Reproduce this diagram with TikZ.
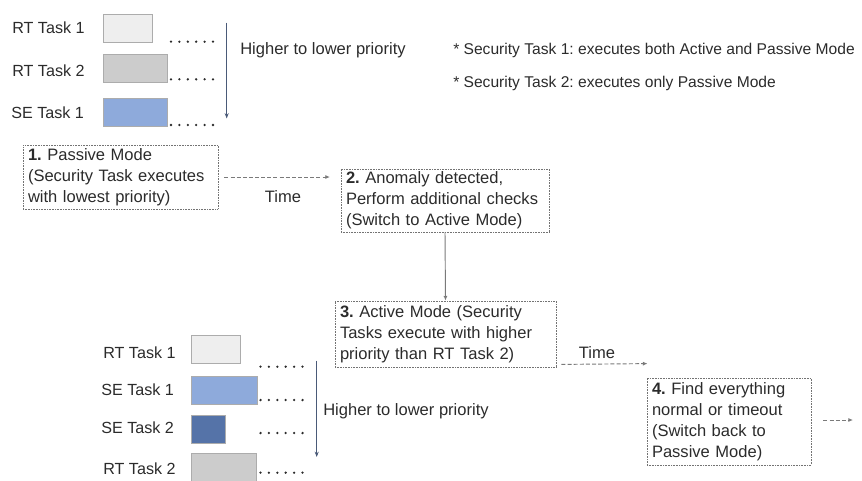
\documentclass[tikz,border=0pt]{standalone}
\usepackage{fontspec}
\setmainfont{Liberation Sans}
\usepackage{xcolor}
\usetikzlibrary{arrows.meta}
\frenchspacing

\definecolor{rtlight}{HTML}{EEEEEE}
\definecolor{rtgray}{HTML}{CCCCCC}
\definecolor{selight}{HTML}{8EAADB}
\definecolor{sedark}{HTML}{5573A8}
\definecolor{prioblue}{HTML}{4A5A78}
\definecolor{txtgray}{HTML}{2B2B2B}
\definecolor{linegray}{HTML}{7A7A7A}

\tikzset{
  tasklabel/.style={anchor=west, inner sep=0pt, text=txtgray, font=\fontsize{12.1}{14}\selectfont},
  taskbar/.style={draw=gray!65, line width=0.6pt, anchor=west, minimum height=21pt, inner sep=0pt},
  taskdots/.style={line width=1.9pt, line cap=round, dash pattern=on 0pt off 6.3pt, txtgray},
  prioarrow/.style={-{Stealth[length=4pt,width=3pt]}, line width=0.7pt, prioblue},
  stepbox/.style={draw=gray!90!black, line width=0.6pt, dash pattern=on 0.6pt off 0.6pt,
    align=left, inner xsep=3.75pt, inner ysep=2pt, text=txtgray,
    font=\fontsize{12.4}{15.75}\selectfont},
  timearrow/.style={-{Latex[length=3.5pt,width=3pt]}, line width=0.7pt, linegray, dash pattern=on 3pt off 1.6pt},
  plainlabel/.style={inner sep=0pt, text=txtgray, font=\fontsize{12.4}{14}\selectfont}
}

\begin{document}
\begin{tikzpicture}[x=0.75pt,y=-0.75pt]
    \useasboundingbox (0,0) rectangle (862,480);

    % passive mode priorities
    \node[tasklabel] (lrt1) at (12,28) {RT Task 1};
    \node[tasklabel] (lrt2) at (12,71) {RT Task 2};
    \node[tasklabel] (lse1) at (11,113) {SE Task 1};
    \node[taskbar, fill=rtlight, minimum width=36.75pt] (rt1) at (103,28) {};
    \node[taskbar, fill=rtgray, minimum width=48pt] (rt2) at (103,68) {};
    \node[taskbar, fill=selight, minimum width=48pt] (se1) at (103,112) {};
    \draw[taskdots] (171,41.7) -- (213.5,41.7);
    \draw[taskdots] (171,79.3) -- (213.5,79.3);
    \draw[taskdots] (171,125) -- (213.5,125);
    \coordinate (pa) at (226.7,22.7);
    \coordinate (pb) at (226.7,118.5);
    \draw[prioarrow] (pa) -- (pb);
    \node[plainlabel, anchor=west] (prio) at (240,50) {Higher to lower priority};

    \node[plainlabel, anchor=west, font=\fontsize{11.7}{13}\selectfont] (note1) at (453,50) {* Security Task 1: executes both Active and Passive Mode};
    \node[plainlabel, anchor=west, font=\fontsize{11.7}{13}\selectfont] (note2) at (453,83) {* Security Task 2: executes only Passive Mode};

    % mode switching steps
    \node[stepbox, text width=138.75pt, minimum height=48pt] (s1) at (120.5,177) {\textbf{1.} Passive Mode\\(Security Task executes\\with lowest priority)};
    \node[stepbox, text width=148.5pt, minimum height=47.25pt] (s2) at (445,200.5) {\textbf{2.} Anomaly detected,\\Perform additional checks\\(Switch to Active Mode)};
    \node[stepbox, text width=158.25pt, minimum height=49.5pt] (s3) at (445.5,334) {\textbf{3.} Active Mode (Security\\Tasks execute with higher\\priority than RT Task 2)};
    \node[stepbox, text width=115.5pt, minimum height=65.25pt] (s4) at (729,421.5) {\textbf{4.} Find everything\\normal or timeout\\(Switch back to\\Passive Mode)};

    \draw[timearrow, shorten <=4.5pt, shorten >=8pt] (s1.east) -- (s1.east -| s2.west);
    \node[plainlabel] (time1) at (283,197) {Time};
    \draw[-{Latex[length=3.5pt,width=3pt]}, line width=0.7pt, linegray] (s2.south) -- (s3.north);
    \draw[timearrow] ([shift={(5,-3)}]s3.south east) -- ([shift={(1,-14)}]s4.north west);
    \node[plainlabel] (time2) at (597,353) {Time};
    \coordinate (tend) at (853,420);
    \draw[timearrow, shorten <=9pt] (s4.east |- tend) -- (tend);

    % active mode priorities
    \node[tasklabel] (brt1) at (103,353) {RT Task 1};
    \node[tasklabel] (bse1) at (101,390) {SE Task 1};
    \node[tasklabel] (bse2) at (101,428) {SE Task 2};
    \node[tasklabel] (brt2) at (103,469) {RT Task 2};
    \node[taskbar, fill=rtlight, minimum width=36.75pt] (art1) at (190.5,349.5) {};
    \node[taskbar, fill=selight, minimum width=49.25pt] (ase1) at (191,390) {};
    \node[taskbar, fill=sedark, minimum width=25.5pt] (ase2) at (191,429) {};
    \node[taskbar, fill=rtgray, minimum width=48.5pt] (art2) at (191,467.5) {};
    \draw[taskdots] (260.5,366.7) -- (303,366.7);
    \draw[taskdots] (260.5,400) -- (303,400);
    \draw[taskdots] (260.5,433) -- (303,433);
    \draw[taskdots] (260.5,472.7) -- (303,472.7);
    \coordinate (qa) at (316.7,360.7);
    \coordinate (qb) at (316.7,457);
    \draw[prioarrow] (qa) -- (qb);
    \node[plainlabel, anchor=west] (prio2) at (323,411) {Higher to lower priority};
\end{tikzpicture}
\end{document}
